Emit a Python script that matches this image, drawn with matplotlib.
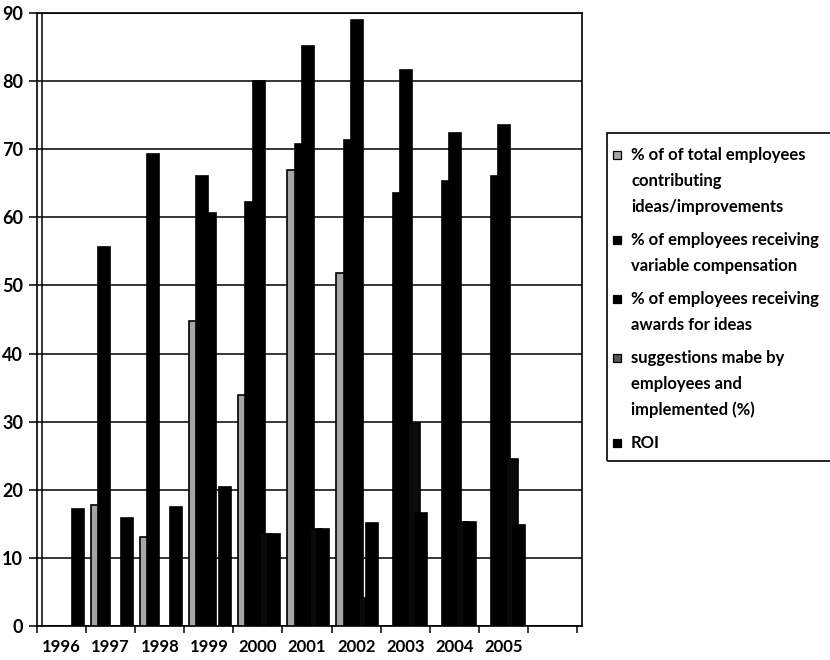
import matplotlib
matplotlib.use("Agg")
import matplotlib.pyplot as plt
from matplotlib.patches import Rectangle
import numpy as np

plt.rcParams['font.family'] = ['Lato', 'DejaVu Sans']

years = ['1996', '1997', '1998', '1999', '2000', '2001', '2002', '2003', '2004', '2005', '']

contributing = [0, 17.8, 13.0, 44.8, 33.9, 66.9, 51.8, 0, 0, 0, 0]
variable_comp = [0, 55.7, 69.3, 66.0, 62.2, 70.8, 71.3, 63.6, 65.3, 66.0, 0]
awards = [0, 0, 0, 60.6, 80.0, 85.1, 88.9, 81.6, 72.4, 73.6, 0]
suggestions = [0, 0, 0, 0, 13.5, 14.2, 4.1, 29.8, 15.2, 24.5, 0]
roi = [17.2, 15.8, 17.4, 20.4, 13.5, 14.2, 15.1, 16.6, 15.2, 14.8, 0]

labels = [
    "% of of total employees\ncontributing\nideas/improvements",
    "% of employees receiving\nvariable compensation",
    "% of employees receiving\nawards for ideas",
    "suggestions mabe by\nemployees and\nimplemented (%)",
    "ROI",
]
series = [contributing, variable_comp, awards, suggestions, roi]
bar_colors = ['#a6a6a6', '#000000', '#000000', '#0a0a0a', '#000000']
key_colors = ['#a6a6a6', '#000000', '#000000', '#555555', '#000000']

W, H = 830, 660
fig = plt.figure(figsize=(W / 100, H / 100), dpi=100)
ax = fig.add_axes([37 / W, 34 / H, 545 / W, 613 / H])

x = np.arange(len(years))
bar_w = 0.245
step = 0.153
span = 4 * step + bar_w
for k, (vals, col) in enumerate(zip(series, bar_colors)):
    left = x - span / 2 + k * step + 0.02
    ax.bar(left, vals, width=bar_w, align='edge', color=col,
           edgecolor='black', linewidth=1.2, zorder=3 + k)

ax.set_xlim(-0.5, 10.6)
ax.set_ylim(0, 90)
ax.set_yticks(np.arange(0, 91, 10))
ax.yaxis.grid(True, color='black', linewidth=1.1, zorder=1)
ax.set_axisbelow(True)

# tick marks on the category boundaries, year labels centred between them
ax.set_xticks(np.arange(-0.5, 11, 1))
ax.set_xticklabels([])
ax.set_xticks(x, minor=True)
ax.set_xticklabels(years, minor=True, fontsize=12, fontweight='bold')
ax.tick_params(axis='x', which='minor', length=0, pad=9)
ax.tick_params(axis='x', which='major', length=5, width=1.1, direction='out')
ax.tick_params(axis='y', length=6, width=1.1, direction='out', pad=4,
               labelsize=13)
for t in ax.get_yticklabels():
    t.set_fontweight('bold')

for s in ax.spines.values():
    s.set_linewidth(1.2)
    s.set_color('black')

# inner border line of the plot area
ax.plot([-0.5 + 5 / 49.4] * 2, [0, 90], color='black', linewidth=1.1,
        zorder=2, clip_on=False)

# legend box with keys aligned to the first line of each entry
fig.patches.append(Rectangle((607 / W, 1 - 461 / H), 0.3, (461 - 133) / H,
                             transform=fig.transFigure, fill=False,
                             edgecolor='black', linewidth=1.2))
line_h = 26
item_gap = 7
y = 155
for lab, col in zip(labels, key_colors):
    fig.patches.append(Rectangle((613 / W, 1 - (y + 4) / H), 8 / W, 8 / H,
                                 transform=fig.transFigure, facecolor=col,
                                 edgecolor='black', linewidth=0.9))
    for j, line in enumerate(lab.split('\n')):
        fig.text(631 / W, 1 - (y + j * line_h) / H, line, fontsize=12,
                 fontweight='bold', ha='left', va='center')
    y += lab.count('\n') * line_h + line_h + item_gap

fig.savefig('out.png', dpi=100, facecolor='white')
